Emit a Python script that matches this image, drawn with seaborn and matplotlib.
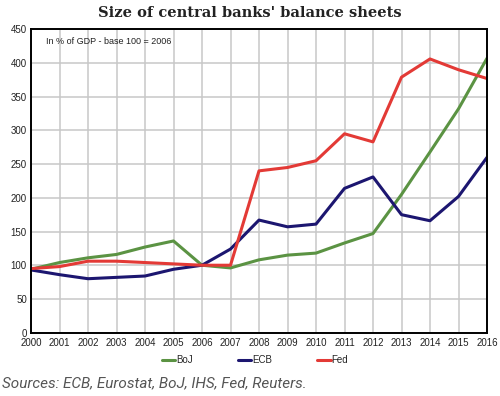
import matplotlib
matplotlib.use("Agg")
import matplotlib.pyplot as plt
import seaborn as sns
import pandas as pd

# data
years = list(range(2000, 2017))
boj = [94, 104, 111, 116, 127, 136, 100, 96, 108, 115, 118, 133, 147, 205, 268, 332, 407]
ecb = [93, 86, 80, 82, 84, 94, 100, 124, 167, 157, 161, 214, 231, 175, 166, 202, 260]
fed = [95, 98, 106, 106, 104, 102, 100, 100, 240, 245, 255, 295, 283, 379, 406, 390, 377]
banks = ['BoJ', 'ECB', 'Fed']
y_ticks = list(range(0, 451, 50))

df = pd.DataFrame({
    'year': years * 3,
    'value': boj + ecb + fed,
    'bank': ['BoJ'] * len(boj) + ['ECB'] * len(ecb) + ['Fed'] * len(fed),
})

my_colors = {'BoJ': '#5b9343', 'ECB': '#1c1670', 'Fed': '#e33a36'}

sns.set_style('white')
plt.rcParams['font.family'] = ['Liberation Sans', 'DejaVu Sans']

fig = plt.figure(figsize=(5, 3.96), dpi=100)
ax = fig.add_axes([0.062, 0.16, 0.912, 0.766])

sns.lineplot(data=df, x='year', y='value', hue='bank', hue_order=banks,
             palette=my_colors, linewidth=2.2, ax=ax, legend=False)

ax.set_xlim(2000, 2016)
ax.set_ylim(0, 450)
ax.set_xticks(years)
ax.set_xticklabels([str(y) for y in years], fontsize=7, color='#222222')
ax.set_yticks(y_ticks)
ax.set_yticklabels([str(v) for v in y_ticks], fontsize=7, color='#222222')
ax.tick_params(axis='x', length=0, pad=3.5)
ax.tick_params(axis='y', length=0, pad=3)
ax.grid(True, color='#c8c8c8', linewidth=1.1)
ax.set_axisbelow(True)
for s in ax.spines.values():
    s.set_color('black')
    s.set_linewidth(1.4)
ax.set_xlabel('')
ax.set_ylabel('')

ax.text(0.032, 0.975, 'In % of GDP - base 100 = 2006', transform=ax.transAxes,
        fontsize=6.5, va='top', ha='left', color='#222222')

handles = [plt.Line2D([], [], color=my_colors[b], linewidth=2.2) for b in banks]
fig.legend(handles, banks, loc='center', bbox_to_anchor=(0.51, 0.09), ncol=3,
           frameon=False, fontsize=7, handlelength=1.4, handletextpad=0.1,
           columnspacing=4.6)

fig.text(0.5, 0.968, "Size of central banks' balance sheets", ha='center', va='center',
         fontsize=10.5, fontweight='bold', family='DejaVu Serif', color='#222222')
fig.text(0.004, 0.033, 'Sources: ECB, Eurostat, BoJ, IHS, Fed, Reuters.', ha='left',
         va='center', fontsize=11, style='italic', color='#555555', family='Roboto')

fig.savefig('out.png', dpi=100)
